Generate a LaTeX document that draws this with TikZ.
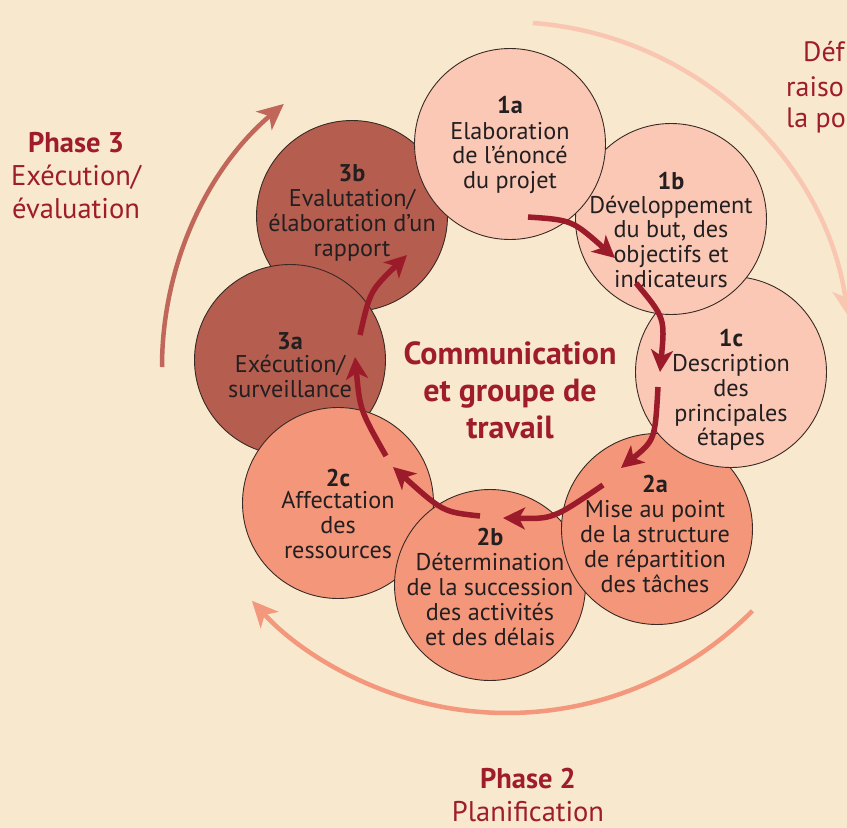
\documentclass[tikz,border=0pt]{standalone}
\usepackage{fontspec}
\setmainfont{PT Sans}
\usetikzlibrary{arrows.meta}
\definecolor{bgc}{HTML}{F8E8CE}
\definecolor{redtxt}{HTML}{9E1C2C}
\definecolor{pone}{HTML}{FAC8B5}
\definecolor{ptwo}{HTML}{F4967A}
\definecolor{pthree}{HTML}{B55D4F}
\definecolor{arcone}{HTML}{F9C6B2}
\definecolor{arctwo}{HTML}{F3987C}
\definecolor{arcthree}{HTML}{C0675A}
\definecolor{arrowred}{HTML}{9C1B2B}
\definecolor{txt}{HTML}{231F20}
\definecolor{edge}{HTML}{3A2A25}
\tikzset{
  circ/.style={circle, draw=edge, line width=0.9pt, minimum size=191pt, inner sep=0pt},
  lbl/.style={align=center, text=txt, inner sep=0pt, font=\fontsize{24.2}{24.8}\selectfont},
  phaselbl/.style={align=center, text=redtxt, inner sep=0pt, font=\fontsize{28.5}{33}\selectfont},
  frag/.style={anchor=west, text=redtxt, inner sep=0pt, font=\fontsize{28}{33}\selectfont},
  centerlbl/.style={align=center, text=redtxt, inner sep=0pt, font=\bfseries\fontsize{32}{37}\selectfont},
  inarrow/.style={draw=arrowred, line width=5.5pt, -{Stealth[length=22pt,width=22pt,inset=6pt]}},
  outarrow/.style={line width=4.5pt, -{Stealth[length=26pt,width=24pt,inset=7pt]}}
}
\begin{document}
\begin{tikzpicture}[x=1pt,y=-1pt]
\useasboundingbox (0,0) rectangle (847,828);
\fill[bgc] (0,0) rectangle (847,828);

% outer phase arcs
\coordinate (ringc) at (507,367);
\draw[outarrow, draw=arcone] (ringc) ++(-85.7:345) arc[start angle=-85.7, end angle=-8.5, radius=345];
\draw[outarrow, draw=arctwo] (ringc) ++(44.8:346) arc[start angle=44.8, end angle=137.5, radius=346];
\draw[outarrow, draw=arcthree] (ringc) ++(180:345) arc[start angle=180, end angle=229.7, radius=345];

% circles (drawn from last to first so that each overlaps the next)
\node[circ, fill=pthree] (c3b) at (352,216) {};
\node[circ, fill=pthree] (c3a) at (290,360) {};
\node[circ, fill=ptwo] (c2c) at (338,503) {};
\node[circ, fill=ptwo] (c2b) at (490,585) {};
\node[circ, fill=ptwo] (c2a) at (657,529) {};
\node[circ, fill=pone] (c1c) at (731,372) {};
\node[circ, fill=pone] (c1b) at (671,219) {};
\node[circ, fill=pone] (c1a) at (510,144) {};

% circle texts
\node[lbl] (t1a) at (510,145) {\textbf{1a}\\[1pt]Elaboration\\de l’énoncé\\du projet};
\node[lbl] (t1b) at (671,230) {\textbf{1b}\\[-1pt]Développement\\du but, des\\objectifs et\\indicateurs};
\node[lbl] (t1c) at (731,390) {\textbf{1c}\\Description\\des\\principales\\étapes};
\node[lbl] (t2a) at (655,534) {\textbf{2a}\\Mise au point\\de la structure\\de répartition\\des tâches};
\node[lbl] (t2b) at (490,587) {\textbf{2b}\\Détermination\\de la succession\\des activités\\et des délais};
\node[lbl] (t2c) at (338,514) {\textbf{2c}\\[-3pt]Affectation\\des\\ressources};
\node[lbl] (t3a) at (290,365) {\textbf{3a}\\[-1pt]Exécution/\\surveillance};
\node[lbl] (t3b) at (352,213) {\textbf{3b}\\Evalutation/\\élaboration d’un\\rapport};

% centre text
\node[centerlbl] (centre) at (510,390) {Communication\\et groupe de\\travail};

% phase labels
\node[phaselbl] (ph3) at (76,176) {\textbf{Phase 3}\\Exécution/\\évaluation};
\node[phaselbl] (ph2) at (528,795) {\textbf{Phase 2}\\Planification};
\node[frag] (ph1a) at (803,52) {Déf};
\node[frag] (ph1b) at (786,87) {raiso};
\node[frag] (ph1c) at (786,120) {la po};

% inner arrow end points
\coordinate (s1) at (528,217); \coordinate (e1) at (615,258);
\coordinate (s2) at (636,283); \coordinate (e2) at (660,372);
\coordinate (s3) at (658,387); \coordinate (e3) at (621,468);
\coordinate (s4) at (603,485); \coordinate (e4) at (503,518);
\coordinate (s5) at (480,516); \coordinate (e5) at (393,467);
\coordinate (s6) at (386,456); \coordinate (e6) at (355,357);
\coordinate (s7) at (360,335); \coordinate (e7) at (407,255);

\draw[inarrow] (s1) .. controls (572,220) .. (e1);
\draw[inarrow] (s2) .. controls (665,318) .. (e2);
\draw[inarrow] (s3) .. controls (655,440) .. (e3);
\draw[inarrow] (s4) .. controls (553,519) .. (e4);
\draw[inarrow] (s5) .. controls (443,512) .. (e5);
\draw[inarrow] (s6) .. controls (360,410) .. (e6);
\draw[inarrow] (s7) .. controls (370,291) .. (e7);
\end{tikzpicture}
\end{document}
